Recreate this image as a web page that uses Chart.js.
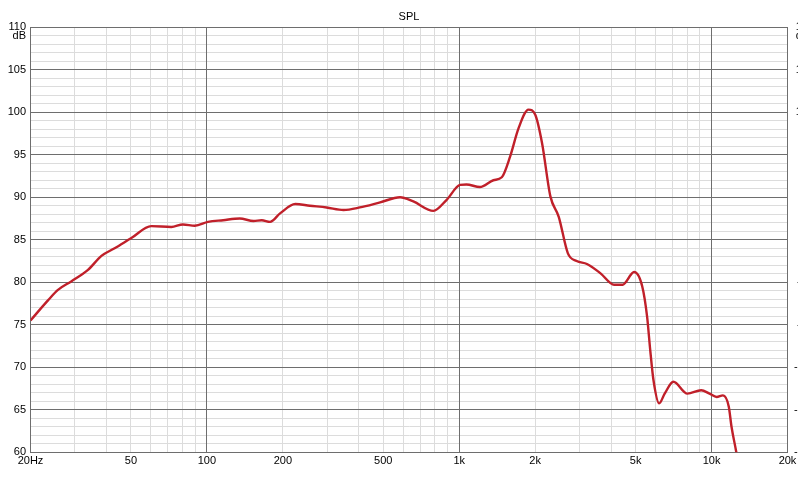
<!DOCTYPE html>
<html>
<head>
<meta charset="utf-8">
<script src="https://cdn.jsdelivr.net/npm/chart.js@4"></script>
<style>
  body { margin: 0; background: #fff; }
  #wrap { width: 798px; height: 479px; }
</style>
</head>
<body>
<div id="wrap"><canvas id="splChart" width="798" height="479"></canvas></div>
<script>
// frequency response
const freqs = [20, 23.5, 25.7, 29, 33.8, 38.2, 43.1, 50.2, 60.2, 72.3, 80.4, 89.6, 101, 116, 135, 153, 165, 178, 195, 224, 256, 298, 348, 404, 486, 583, 658, 790, 892, 1008, 1068, 1208, 1366, 1475, 1592, 1718, 1882, 2002, 2130, 2298, 2480, 2696, 2920, 3208, 3632, 4110, 4440, 4936, 5314, 5554, 5716, 5886, 6200, 6520, 7060, 8020, 9100, 9820, 10480, 11100, 11700, 12000, 12520, 13200];
const spl = [75.5, 77.9, 79.1, 80.1, 81.45, 83.1, 84.0, 85.2, 86.6, 86.5, 86.8, 86.65, 87.1, 87.3, 87.5, 87.2, 87.3, 87.1, 88.1, 89.2, 89.0, 88.8, 88.5, 88.8, 89.4, 90.0, 89.5, 88.4, 89.7, 91.45, 91.5, 91.2, 92.0, 92.35, 94.8, 98.1, 100.3, 99.7, 96.35, 90.1, 87.7, 83.4, 82.5, 82.15, 81.05, 79.7, 79.7, 81.2, 79.5, 75.95, 72.0, 68.5, 65.75, 66.9, 68.3, 66.9, 67.3, 66.9, 66.5, 66.7, 65.4, 63.0, 60.1, 56];

// axes
const xGrid = [20, 30, 40, 50, 60, 70, 80, 90, 100, 200, 300, 400, 500, 600, 700, 800, 900, 1000, 2000, 3000, 4000, 5000, 6000, 7000, 8000, 9000, 10000, 20000];
const xMajor = [20, 100, 1000, 10000, 20000];
const xLabelValues = [20, 50, 100, 200, 500, 1000, 2000, 5000, 10000, 20000];
const xLabels = ['20Hz', '50', '100', '200', '500', '1k', '2k', '5k', '10k', '20k'];
const yLabelValues = [110, 105, 100, 95, 90, 85, 80, 75, 70, 65, 60];
const phaseLabels = ['180', '144', '108', '72', '36', '0', '-36', '-72', '-108', '-144', '-180'];

const FONT = '11px "Liberation Sans", Arial, sans-serif';
const DARK = '#6e6e6e';
const LIGHT = '#dcdcdc';

// same rounding Chart.js uses for 1px grid lines
const align = p => Math.round(p - 0.5) + 0.5;

// major lines again on top of the minor ones, so crossings stay dark
const majorGrid = {
  id: 'majorGrid',
  beforeDatasetsDraw(chart) {
    const ctx = chart.ctx, a = chart.chartArea;
    const xs = chart.scales.x, ys = chart.scales.y;
    ctx.save();
    ctx.strokeStyle = DARK;
    ctx.lineWidth = 1;
    ctx.beginPath();
    xMajor.forEach(v => {
      const px = align(xs.getPixelForValue(v));
      ctx.moveTo(px, a.top);
      ctx.lineTo(px, a.bottom);
    });
    yLabelValues.forEach(v => {
      const py = align(ys.getPixelForValue(v));
      ctx.moveTo(a.left, py);
      ctx.lineTo(a.right, py);
    });
    ctx.stroke();
    ctx.restore();
  }
};

const tickLabels = {
  id: 'tickLabels',
  afterDraw(chart) {
    const ctx = chart.ctx;
    const xs = chart.scales.x, ys = chart.scales.y;
    ctx.save();
    ctx.font = FONT;
    ctx.fillStyle = '#000';
    ctx.textBaseline = 'middle';

    ctx.textAlign = 'right';
    yLabelValues.forEach(v => ctx.fillText(String(v), 26, ys.getPixelForValue(v)));
    ctx.fillText('dB', 26, ys.getPixelForValue(110) + 9);

    // right axis (phase), mostly off the canvas
    ctx.textAlign = 'center';
    yLabelValues.forEach((v, i) => ctx.fillText(phaseLabels[i], 805, ys.getPixelForValue(v)));
    ctx.fillText('deg', 805, ys.getPixelForValue(110) + 9);

    xLabelValues.forEach((v, i) => ctx.fillText(xLabels[i], xs.getPixelForValue(v), 461));
    ctx.restore();
  }
};

new Chart(document.getElementById('splChart'), {
  type: 'line',
  data: {
    datasets: [{
      label: 'SPL',
      data: freqs.map((f, i) => ({ x: f, y: spl[i] })),
      borderColor: '#c0202a',
      borderWidth: 2.4,
      pointRadius: 0,
      cubicInterpolationMode: 'monotone',
      fill: false
    }]
  },
  options: {
    responsive: false,
    animation: false,
    layout: { padding: { left: 30.5, right: 10.5, top: 0, bottom: 26.7 } },
    scales: {
      x: {
        type: 'logarithmic',
        min: 20,
        max: 20000,
        afterBuildTicks: scale => { scale.ticks = xGrid.map(v => ({ value: v })); },
        ticks: { display: false },
        grid: {
          drawTicks: false,
          color: ctx => xMajor.includes(ctx.tick.value) ? DARK : LIGHT
        },
        border: { color: DARK }
      },
      y: {
        type: 'linear',
        min: 60,
        max: 110,
        afterBuildTicks: scale => {
          const t = [];
          for (let v = 60; v <= 110; v++) t.push({ value: v });
          scale.ticks = t;
        },
        ticks: { display: false },
        grid: {
          drawTicks: false,
          color: ctx => ctx.tick.value % 5 === 0 ? DARK : LIGHT
        },
        border: { color: DARK }
      }
    },
    plugins: {
      legend: { display: false },
      tooltip: { enabled: false },
      title: {
        display: true,
        text: 'SPL',
        color: '#000',
        font: { family: '"Liberation Sans", Arial, sans-serif', size: 11, weight: 'normal' },
        padding: { top: 10, bottom: 4 }
      }
    }
  },
  plugins: [majorGrid, tickLabels]
});
</script>
</body>
</html>
